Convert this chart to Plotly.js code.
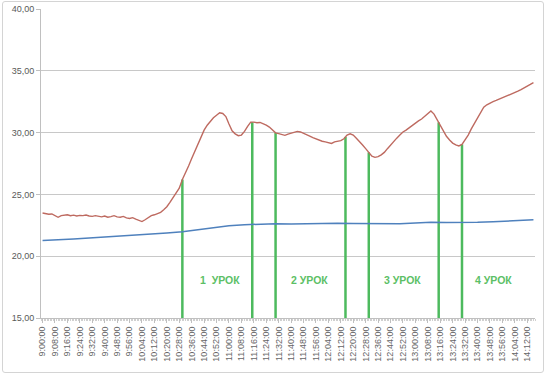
<!DOCTYPE html>
<html>
<head>
<meta charset="utf-8">
<script src="https://cdn.plot.ly/plotly-3.0.1.min.js"></script>
<style>
  html, body { margin: 0; padding: 0; background: #fff; }
  #wrap { position: relative; width: 549px; height: 374px; }
  #chart { position: absolute; left: 0; top: 0; width: 549px; height: 374px; }
  #frame { position: absolute; left: 2px; top: 1px; width: 540px; height: 370px;
           border: 1px solid #d4d4d4; border-radius: 3px; pointer-events: none; }
</style>
</head>
<body>
<div id="wrap"><div id="chart"></div><div id="frame"></div></div>
<script>
// ---- data ----
const tickLabels = ["9:00:00","9:08:00","9:16:00","9:24:00","9:32:00","9:40:00","9:48:00","9:56:00",
  "10:04:00","10:12:00","10:20:00","10:28:00","10:36:00","10:44:00","10:52:00","11:00:00","11:08:00",
  "11:16:00","11:24:00","11:32:00","11:40:00","11:48:00","11:56:00","12:04:00","12:12:00","12:20:00",
  "12:28:00","12:36:00","12:44:00","12:52:00","13:00:00","13:08:00","13:16:00","13:24:00","13:32:00",
  "13:40:00","13:48:00","13:56:00","14:04:00","14:12:00"];
const yTickVals = [15, 20, 25, 30, 35, 40];
const yTickText = ["15,00","20,00","25,00","30,00","35,00","40,00"];

// red series: sampled every 2 minutes from 9:00
const redStart = "9:00";
const redStepMin = 2;
const redVals = [23.50,23.45,23.40,23.42,23.25,23.15,23.28,23.30,23.35,23.28,23.32,23.25,23.30,23.28,23.33,23.25,
  23.22,23.28,23.20,23.18,23.25,23.15,23.20,23.28,23.18,23.15,23.22,23.10,23.05,23.12,23.00,22.90,22.80,22.95,
  23.15,23.28,23.35,23.45,23.55,23.75,24.00,24.35,24.70,25.10,25.50,26.20,26.70,27.30,27.90,28.50,29.00,29.60,
  30.20,30.60,30.95,31.20,31.40,31.60,31.55,31.30,30.70,30.15,29.90,29.75,29.80,30.10,30.50,30.85,30.85,30.80,
  30.82,30.72,30.60,30.45,30.20,29.98,29.92,29.85,29.78,29.88,29.95,30.00,30.10,30.05,29.92,29.80,29.72,29.60,
  29.48,29.38,29.30,29.25,29.18,29.12,29.25,29.30,29.35,29.50,29.80,29.90,29.80,29.55,29.30,29.00,28.70,28.40,
  28.10,28.00,28.05,28.20,28.40,28.70,29.00,29.30,29.55,29.80,30.05,30.20,30.40,30.55,30.80,30.95,31.10,31.30,
  31.50,31.75,31.50,31.05,30.60,30.10,29.70,29.40,29.15,29.00,28.92,29.05,29.40,29.80,30.30,30.75,31.25,31.70,
  32.05,32.25,32.40,32.50,32.60,32.70,32.80,32.90,33.00,33.10,33.25,33.35,33.48,33.60,33.75,33.90,34.05];

// blue series
const blueTimes = ["9:00","9:10","9:20","9:30","9:40","9:50","10:00","10:10","10:20","10:30","10:40","10:50",
  "11:00","11:10","11:20","11:30","11:40","11:50","12:00","12:10","12:20","12:30","12:40","12:50","13:00",
  "13:10","13:20","13:30","13:40","13:50","14:00","14:10","14:16"];
const blueVals = [21.28,21.32,21.40,21.48,21.55,21.63,21.72,21.80,21.88,21.98,22.15,22.32,22.47,22.55,22.60,
  22.62,22.60,22.63,22.65,22.66,22.65,22.63,22.60,22.62,22.68,22.74,22.73,22.72,22.74,22.78,22.83,22.90,22.94];

// lesson boundaries and labels
const lessonBounds = ["10:30","11:15","11:30","12:15","12:30","13:15","13:30"];
const lessonLabels = ["1\u00a0 УРОК","2 УРОК","3 УРОК","4 УРОК"];
const lessonLabelTimes = ["10:54","11:52","12:52","13:50"];
const lessonLabelLevel = 18.1;

// ---- helpers ----
function toMin(s) { const p = s.split(":"); return (+p[0]) * 60 + (+p[1]) - 540; }
const redX = redVals.map((v, i) => toMin(redStart) + i * redStepMin);
const blueX = blueTimes.map(toMin);
function redAt(t) {
  for (let i = 0; i < redX.length - 1; i++) {
    if (t >= redX[i] && t <= redX[i + 1]) {
      const f = (t - redX[i]) / (redX[i + 1] - redX[i]);
      return redVals[i] + f * (redVals[i + 1] - redVals[i]);
    }
  }
  return redVals[redVals.length - 1];
}
const tickVals = tickLabels.map(toMin);

const green = "#4DBA5E";
const traces = [];
lessonBounds.forEach(b => {
  const t = toMin(b);
  traces.push({ x: [t, t], y: [15, redAt(t)], mode: "lines", type: "scatter",
    line: { color: green, width: 2.5 }, hoverinfo: "skip", showlegend: false });
});
traces.push({ x: blueX, y: blueVals, mode: "lines", type: "scatter",
  line: { color: "#4F81BD", width: 1.5 }, showlegend: false });
traces.push({ x: redX, y: redVals, mode: "lines", type: "scatter",
  line: { color: "#BE6A60", width: 1.4 }, showlegend: false });

const annotations = lessonLabels.map((txt, i) => ({
  x: toMin(lessonLabelTimes[i]), y: lessonLabelLevel, xref: "x", yref: "y",
  text: "<b>" + txt + "</b>", showarrow: false,
  font: { family: "Liberation Sans, Arial, sans-serif", size: 10.5, color: "#5CBF66" }
}));

const layout = {
  width: 549, height: 374,
  margin: { l: 41, r: 14, t: 9, b: 56 },
  paper_bgcolor: "rgba(0,0,0,0)", plot_bgcolor: "#fff",
  showlegend: false,
  xaxis: {
    range: [-1, 317], tickmode: "array", tickvals: tickVals, ticktext: tickLabels,
    tickangle: -90, ticks: "outside", ticklen: 4, tickcolor: "#c0c0c0",
    showgrid: false, zeroline: false, showline: true, linecolor: "#c0c0c0", linewidth: 1,
    minor: { dtick: 1, ticks: "outside", ticklen: 2, tickcolor: "#d0d0d0", showgrid: false },
    tickfont: { family: "Liberation Sans, Arial, sans-serif", size: 9, color: "#666666" }
  },
  yaxis: {
    range: [15, 40], tickmode: "array", tickvals: yTickVals, ticktext: yTickText,
    ticks: "outside", ticklen: 4, tickcolor: "#c0c0c0",
    showgrid: true, gridcolor: "#c8c8c8", gridwidth: 1, zeroline: false,
    showline: true, linecolor: "#c0c0c0", linewidth: 1,
    tickfont: { family: "Liberation Sans, Arial, sans-serif", size: 9, color: "#595959" }
  },
  annotations: annotations
};

Plotly.newPlot("chart", traces, layout, { staticPlot: true, displayModeBar: false });
</script>
</body>
</html>
